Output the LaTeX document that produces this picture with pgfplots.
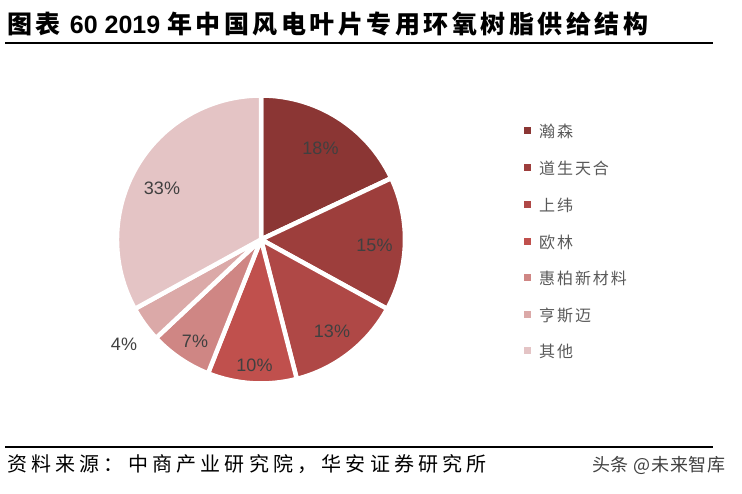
\documentclass[border=0pt]{standalone}
\usepackage{fontspec}
\setmainfont{Liberation Sans}
\newfontfamily\cjk{Noto Sans CJK SC}
\newfontfamily\cjkt[LetterSpace=14]{Noto Sans CJK SC}
\usepackage{pgfplots}
\usepackage{pgfplotstable}
\pgfplotsset{compat=1.18}

\definecolor{c1}{HTML}{8B3634}
\definecolor{c2}{HTML}{9D3E3C}
\definecolor{c3}{HTML}{AF4846}
\definecolor{c4}{HTML}{C0504D}
\definecolor{c5}{HTML}{CF8684}
\definecolor{c6}{HTML}{DBA9A8}
\definecolor{c7}{HTML}{E4C4C5}
\definecolor{lbl}{HTML}{404040}
\definecolor{leg}{HTML}{595959}

% value (percent), slice colour, label offset (px from centre)
\pgfplotstableread{
name value col lx ly
A 18 c1 59.5 91
B 15 c2 113.5 -6
C 13 c3 71 -92
D 10 c4 -6.5 -126
E 7 c5 -66 -102
F 4 c6 -137 -104.5
G 33 c7 -99 51
}\piedata

\begin{document}
\begin{tikzpicture}[x=1pt,y=1pt]
\path[use as bounding box] (0,0) rectangle (742,494);

% title
\node[anchor=base west, inner sep=0] at (7,460)
  {\fontsize{25}{30}\selectfont\cjkt\bfseries 图表 \fontspec{Liberation Sans}\bfseries 60 2019 \cjkt\bfseries 年中国风电叶片专用环氧树脂供给结构};
\draw[line width=1.2pt] (5,451) -- (658,451);
\draw[line width=2.5pt] (658,451) -- (713,451);

% pie
\begin{axis}[
  at={(261,254.5)}, anchor=origin,
  scale only axis, width=286pt, height=286pt,
  xmin=-143, xmax=143, ymin=-143, ymax=143,
  enlargelimits=false, hide axis, clip=false]
\pgfplotsextra{
  \xdef\cum{0}
  \foreach \i in {0,...,6}{
    \pgfplotstablegetelem{\i}{value}\of\piedata \let\v\pgfplotsretval
    \pgfplotstablegetelem{\i}{col}\of\piedata \let\c\pgfplotsretval
    \pgfmathsetmacro\a{90-3.6*\cum}
    \pgfmathsetmacro\b{\a-3.6*\v}
    \fill[fill=\c, draw=white, line width=4.5pt, line join=round]
      (axis cs:0,0) -- (axis cs:{144*cos(\a)},{144*sin(\a)})
      arc[start angle=\a, end angle=\b, radius=144pt] -- cycle;
    \pgfmathsetmacro\nc{\cum+\v}\xdef\cum{\nc}
  }
  \foreach \i in {0,...,6}{
    \pgfplotstablegetelem{\i}{value}\of\piedata \let\v\pgfplotsretval
    \pgfplotstablegetelem{\i}{lx}\of\piedata \let\lx\pgfplotsretval
    \pgfplotstablegetelem{\i}{ly}\of\piedata \let\ly\pgfplotsretval
    \node[text=lbl, font=\fontsize{18}{20}\selectfont, inner sep=0]
      at (axis cs:\lx,\ly) {\v\%};
  }
}
\end{axis}

% legend
\foreach \col/\txt/\y in {c1/瀚森/131, c2/道生天合/168, c3/上纬/205, c4/欧林/242,
                          c5/惠柏新材料/278, c6/亨斯迈/315, c7/其他/351}{
  \fill[\col] (524,{494-\y-3.5}) rectangle ++(7,7);
  \node[anchor=west, inner sep=0, text=leg] at (539,{494-\y})
    {\fontsize{16}{18}\selectfont\cjk\addfontfeatures{LetterSpace=12}\txt};
}

% footer
\draw[line width=2pt] (5,47) -- (713,47);
\node[anchor=base west, inner sep=0] at (7,22)
  {\fontsize{20}{22}\selectfont\cjk\addfontfeatures{LetterSpace=21}资料来源：中商产业研究院，华安证券研究所};
\node[anchor=base west, inner sep=0, text=black!75] at (592,22)
  {\fontsize{18}{20}\selectfont\cjk\addfontfeatures{LetterSpace=4}头条 @未来智库};
\end{tikzpicture}
\end{document}
